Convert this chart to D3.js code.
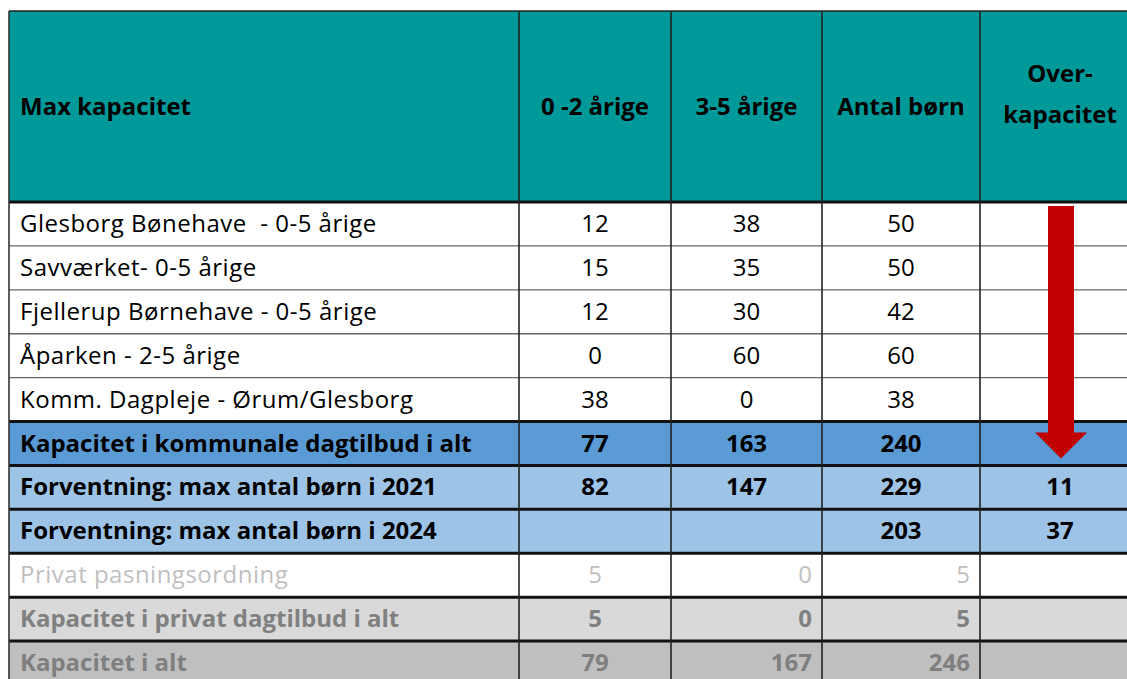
<!DOCTYPE html>
<html>
<head>
<meta charset="utf-8">
<script src="https://cdn.jsdelivr.net/npm/d3@7"></script>
<style>
  body { margin: 0; background: #fff; }
  svg { display: block; font-family: "Open Sans", Lato, sans-serif; }
</style>
</head>
<body>
<div id="table"></div>
<script>

// table data
var headers = ["Max kapacitet", "0 -2 årige", "3-5 årige", "Antal børn", "Over-|kapacitet"];
var labels = [
  "Glesborg Bønehave  - 0-5 årige",
  "Savværket- 0-5 årige",
  "Fjellerup Børnehave - 0-5 årige",
  "Åparken - 2-5 årige",
  "Komm. Dagpleje - Ørum/Glesborg",
  "Kapacitet i kommunale dagtilbud i alt",
  "Forventning: max antal børn i 2021",
  "Forventning: max antal børn i 2024",
  "Privat pasningsordning",
  "Kapacitet i privat dagtilbud i alt",
  "Kapacitet i alt"
];
var age02 = [12, 15, 12, 0, 38, 77, 82, null, 5, 5, 79];
var age35 = [38, 35, 30, 60, 0, 163, 147, null, 0, 0, 167];
var antal = [50, 50, 42, 60, 38, 240, 229, 203, 5, 5, 246];
var over  = [null, null, null, null, null, null, 11, 37, null, null, null];
var rowType = ["plain", "plain", "plain", "plain", "plain", "total", "forecast", "forecast", "private", "privtotal", "grand"];

var width = 1127, height = 679;
var tableTop = 11, headerBottom = 202, tableBottom = 685;
var colEdges = [9, 519, 671, 822, 980, 1140];
var fontSize = 24;

var styles = {
  plain:     {fill: "#ffffff", color: "#000000", weight: 400, align: "center"},
  total:     {fill: "#5b9bd5", color: "#000000", weight: 700, align: "center"},
  forecast:  {fill: "#9dc3e6", color: "#000000", weight: 700, align: "center"},
  private:   {fill: "#ffffff", color: "#bfbfbf", weight: 400, align: "right"},
  privtotal: {fill: "#d9d9d9", color: "#808080", weight: 700, align: "right"},
  grand:     {fill: "#bfbfbf", color: "#7f7f7f", weight: 700, align: "right"}
};

var svg = d3.select("#table").append("svg")
  .attr("width", width)
  .attr("height", height);

var y = d3.scaleBand()
  .domain(d3.range(labels.length))
  .range([headerBottom, tableBottom])
  .padding(0);

var x = d3.scaleOrdinal()
  .domain(d3.range(5))
  .range(colEdges.slice(0, 5));
var colW = function(i) { return colEdges[i + 1] - colEdges[i]; };

// header
svg.append("rect")
  .attr("x", colEdges[0]).attr("y", tableTop)
  .attr("width", colEdges[5] - colEdges[0])
  .attr("height", headerBottom - tableTop)
  .attr("fill", "#009999");

headers.forEach(function(h, i) {
  var lines = h.split("|");
  var t = svg.append("text")
    .attr("font-weight", 700)
    .attr("font-size", fontSize)
    .attr("fill", "#000")
    .attr("text-anchor", i == 0 ? "start" : "middle");
  var cx = i == 0 ? x(0) + 11 : x(i) + colW(i) / 2;
  var cy = (tableTop + headerBottom) / 2 + 8;
  if (lines.length > 1) cy -= 12;
  lines.forEach(function(l, k) {
    t.append("tspan")
      .attr("x", cx)
      .attr("y", cy + (k - (lines.length - 1) / 2) * 41)
      .text(l);
  });
});

// rows
var rows = svg.selectAll(".row")
  .data(labels)
  .enter().append("g")
  .attr("class", "row");

rows.append("rect")
  .attr("x", colEdges[0])
  .attr("y", function(d, i) { return y(i); })
  .attr("width", colEdges[5] - colEdges[0])
  .attr("height", y.bandwidth())
  .attr("fill", function(d, i) { return styles[rowType[i]].fill; });

rows.append("text")
  .attr("x", x(0) + 11)
  .attr("y", function(d, i) { return y(i) + y.bandwidth() / 2 + 8; })
  .attr("font-size", fontSize)
  .attr("font-weight", function(d, i) { return styles[rowType[i]].weight; })
  .attr("letter-spacing", function(d, i) { return styles[rowType[i]].weight == 400 ? 0.5 : 0; })
  .attr("fill", function(d, i) { return styles[rowType[i]].color; })
  .attr("xml:space", "preserve")
  .text(function(d) { return d; });

var cols = [age02, age35, antal, over];
cols.forEach(function(vals, c) {
  var ci = c + 1;
  vals.forEach(function(v, i) {
    if (v === null) return;
    var st = styles[rowType[i]];
    var right = st.align == "right" && ci > 1;
    svg.append("text")
      .attr("x", right ? x(ci) + colW(ci) - 10 : x(ci) + colW(ci) / 2)
      .attr("y", y(i) + y.bandwidth() / 2 + 8)
      .attr("text-anchor", right ? "end" : "middle")
      .attr("font-size", fontSize)
      .attr("font-weight", st.weight)
      .attr("fill", st.color)
      .text(v);
  });
});

// horizontal rules
var rules = svg.append("g");
rules.append("line")
  .attr("x1", colEdges[0]).attr("x2", colEdges[5])
  .attr("y1", tableTop).attr("y2", tableTop)
  .attr("stroke", "#222").attr("stroke-width", 1.5);

d3.range(labels.length).forEach(function(i) {
  var thick = !(rowType[i] == "plain" && i > 0);
  rules.append("line")
    .attr("x1", colEdges[0]).attr("x2", colEdges[5])
    .attr("y1", y(i)).attr("y2", y(i))
    .attr("stroke", thick ? "#111" : "#666")
    .attr("stroke-width", thick ? 3 : 1.3);
});

// vertical rules
colEdges.slice(0, 5).forEach(function(cx, i) {
  svg.append("line")
    .attr("x1", cx).attr("x2", cx)
    .attr("y1", tableTop).attr("y2", tableBottom)
    .attr("stroke", i == 0 ? "#333" : "#222")
    .attr("stroke-width", 1.6);
});

// red arrow over the Over-kapacitet column
var ax = x(4) + colW(4) / 2 + 1;
var shaftW = 26, headW = 52, arrowTop = y(0) + 4;
var headTop = y(5) + 11, tip = y(6) - 7;
svg.append("path")
  .attr("d", [
    "M", ax - shaftW / 2, arrowTop,
    "L", ax + shaftW / 2, arrowTop,
    "L", ax + shaftW / 2, headTop,
    "L", ax + headW / 2, headTop,
    "L", ax, tip,
    "L", ax - headW / 2, headTop,
    "L", ax - shaftW / 2, headTop,
    "Z"].join(" "))
  .attr("fill", "#c00000");

</script>
</body>
</html>
